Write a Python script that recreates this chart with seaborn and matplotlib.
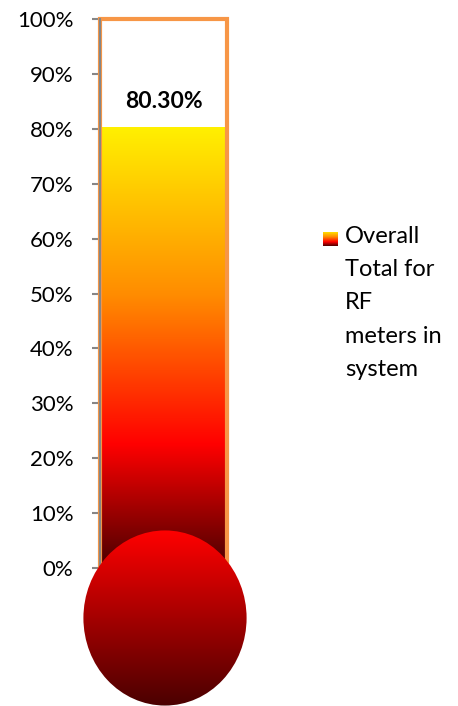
import numpy as np
import pandas as pd
import matplotlib
matplotlib.use("Agg")
import matplotlib.pyplot as plt
import seaborn as sns
from matplotlib.colors import LinearSegmentedColormap
from matplotlib.patches import Ellipse, Rectangle
from matplotlib.ticker import PercentFormatter

# ---- data ----
categories = ["Overall Total for RF meters in system"]
values = [0.803]
value_label = "80.30%"
legend_label = "Overall\nTotal for\nRF\nmeters in\nsystem"
y_ticks = [0, 0.1, 0.2, 0.3, 0.4, 0.5, 0.6, 0.7, 0.8, 0.9, 1.0]

sns.set_style("white")
plt.rcParams["font.family"] = ["Lato", "DejaVu Sans"]

W, H = 458, 706
fig = plt.figure(figsize=(W / 100, H / 100), dpi=100)
ax = fig.add_axes([100 / W, 1 - 568 / H, 127 / W, (568 - 19) / H])

df = pd.DataFrame({"cat": categories, "val": values})
sns.barplot(data=df, x="cat", y="val", ax=ax, width=1.0, color="red",
            edgecolor="none", zorder=2)
ax.set_ylim(0, 1.0)
ax.set_xlim(-0.5, 0.5)

bar_cmap = LinearSegmentedColormap.from_list(
    "therm", [(0.0, "#4a0000"), (0.28, "#ff0000"), (0.62, "#ff8c00"), (1.0, "#fff000")])
bulb_cmap = LinearSegmentedColormap.from_list(
    "bulb", [(0.0, "#4a0000"), (1.0, "#ff0000")])

grad = np.linspace(0, 1, 256).reshape(-1, 1)
for p in ax.patches:
    x0, y0 = p.get_x(), p.get_y()
    w, h = p.get_width(), p.get_height()
    p.set_facecolor("none")
    im = ax.imshow(grad, cmap=bar_cmap, aspect="auto", origin="lower",
                   extent=[x0, x0 + w, y0, y0 + h], zorder=2)
    im.set_clip_path(p)

ax.set_xlim(-0.5, 0.5)
ax.set_ylim(0, 1.0)

# orange outline of the thermometer tube
outline = Rectangle((-0.5, 0), 1.0, 1.0, fill=False, edgecolor="#f79646",
                    linewidth=3, zorder=3, clip_on=False)
ax.add_patch(outline)

for s in ["top", "right", "bottom"]:
    ax.spines[s].set_visible(False)
ax.spines["left"].set_color("#868686")
ax.spines["left"].set_linewidth(1.5)
ax.spines["left"].set_zorder(4)
ax.set_xticks([])
ax.set_xlabel("")
ax.set_ylabel("")
ax.set_yticks(y_ticks)
ax.yaxis.set_major_formatter(PercentFormatter(1.0, decimals=0))
ax.tick_params(axis="y", left=True, length=6, width=1.5, color="#868686",
               labelsize=16, pad=13, labelcolor="black")

ax.text(0, 0.85, value_label, ha="center", va="center", fontsize=16.5,
        fontweight="bold", color="black", zorder=5)

# bulb
bax = fig.add_axes([83 / W, 0, 164 / W, 176 / H])
bax.set_xlim(0, 1)
bax.set_ylim(0, 1)
bax.axis("off")
bim = bax.imshow(grad, cmap=bulb_cmap, aspect="auto", origin="lower",
                 extent=[0, 1, 0, 1])
ell = Ellipse((0.5, 0.5), 0.995, 0.995, transform=bax.transAxes,
              facecolor="none", edgecolor="none")
bax.add_patch(ell)
bim.set_clip_path(ell)

# legend
lax = fig.add_axes([323 / W, 1 - 246 / H, 15 / W, 14 / H])
lax.imshow(grad, cmap=bar_cmap, aspect="auto", origin="lower", extent=[0, 1, 0, 1])
lax.axis("off")
fig.text(345 / W, 1 - 226 / H, legend_label, ha="left", va="top",
         fontsize=17, linespacing=1.72, color="black")

fig.savefig("out.png", dpi=100)
